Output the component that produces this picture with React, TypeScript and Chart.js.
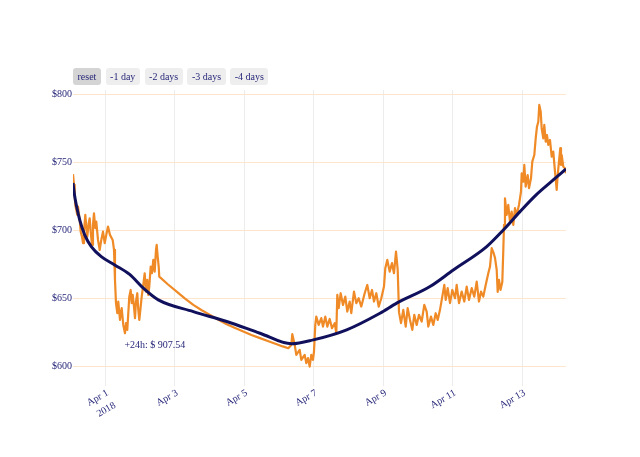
import React, { useEffect, useRef } from 'react';
import { Chart, registerables } from 'chart.js';

Chart.register(...registerables);

// x = days since Apr 1 2018 00:00, y = price in USD
const priceMar31ToApr2: [number, number][] = [
  [-0.935, 741.4], [-0.906, 733.5], [-0.886, 726.2], [-0.869, 718.8], [-0.812, 711.5], [-0.791, 717.6],
  [-0.742, 707.8], [-0.714, 699.2], [-0.676, 695.5], [-0.647, 690.7], [-0.619, 699.2], [-0.581, 711.5],
  [-0.553, 702.9], [-0.524, 695.5], [-0.483, 705.4], [-0.455, 709.0], [-0.426, 699.2], [-0.388, 689.4],
  [-0.36, 704.1], [-0.331, 712.7], [-0.294, 701.7], [-0.265, 706.5], [-0.216, 693.1], [-0.167, 685.7],
  [-0.121, 693.1], [-0.072, 699.2], [-0.023, 690.7], [0.023, 696.8], [0.072, 702.9], [0.129, 696.8],
  [0.207, 693.1], [0.245, 685.7], [0.273, 663.7], [0.302, 646.6], [0.34, 639.2], [0.368, 647.8],
  [0.417, 634.3], [0.466, 642.9], [0.512, 630.6], [0.561, 624.5], [0.59, 631.9], [0.627, 627.0],
  [0.656, 639.2], [0.685, 651.4], [0.725, 656.3], [0.754, 646.6], [0.783, 652.7], [0.82, 644.1],
  [0.849, 635.6], [0.878, 647.8], [0.915, 653.9], [0.944, 641.7], [0.973, 634.3], [1.013, 644.1],
  [1.042, 651.4], [1.088, 660.0], [1.128, 668.6], [1.165, 655.1], [1.203, 663.7], [1.232, 652.7],
  [1.26, 658.8], [1.301, 673.5], [1.338, 668.6], [1.376, 678.4], [1.416, 669.8], [1.453, 685.7],
  [1.473, 689.4], [1.502, 680.8], [1.531, 673.5], [1.548, 666.1],
];

const priceApr2ToApr6: [number, number][] = [
  [1.8, 660.3], [2.049, 655.1], [2.29, 650.0], [2.527, 645.3], [2.77, 641.4], [3.007, 638.0],
  [3.25, 634.4], [3.488, 631.1], [3.73, 628.3], [3.966, 625.7], [4.2, 623.2], [4.446, 620.9],
  [4.69, 618.6], [4.927, 616.4], [5.1, 614.8], [5.26, 613.5],
];

const priceApr6ToApr9: [number, number][] = [
  [5.347, 615.9], [5.376, 623.8], [5.445, 615.9], [5.491, 608.6], [5.588, 612.3], [5.635, 604.9],
  [5.732, 608.6], [5.778, 602.5], [5.827, 606.2], [5.876, 600.0], [5.922, 608.6], [5.971, 604.9],
  [6.0, 611.0], [6.037, 630.6], [6.066, 636.7], [6.135, 630.6], [6.21, 635.6], [6.259, 629.4],
  [6.325, 636.7], [6.383, 629.4], [6.452, 635.0], [6.518, 628.2], [6.596, 631.9], [6.642, 624.5],
  [6.671, 652.7], [6.711, 642.9], [6.768, 653.9], [6.835, 645.3], [6.901, 651.4], [6.958, 640.4],
  [7.027, 647.8], [7.073, 639.2], [7.151, 655.1], [7.217, 646.6], [7.286, 650.2], [7.361, 644.1],
  [7.459, 653.9], [7.534, 660.0], [7.603, 650.2], [7.669, 656.3], [7.727, 647.8], [7.793, 653.9],
  [7.862, 644.1], [7.937, 650.2], [8.014, 658.8], [8.052, 672.3], [8.109, 678.4], [8.178, 669.8],
  [8.245, 676.0], [8.302, 668.6], [8.36, 684.5], [8.409, 671.0], [8.446, 640.0],
];

const priceApr9ToApr12: [number, number][] = [
  [8.504, 631.9], [8.57, 641.7], [8.639, 629.4], [8.696, 642.9], [8.763, 634.3], [8.829, 627.0],
  [8.886, 638.0], [8.955, 630.6], [9.022, 638.0], [9.099, 633.1], [9.174, 645.3], [9.243, 640.4],
  [9.289, 629.4], [9.367, 636.7], [9.433, 630.6], [9.502, 639.2], [9.56, 634.3], [9.626, 641.7],
  [9.692, 651.4], [9.75, 660.0], [9.79, 649.0], [9.847, 657.6], [9.914, 646.6], [9.98, 656.3],
  [10.058, 650.2], [10.106, 660.0], [10.173, 646.6], [10.25, 655.1], [10.325, 647.8], [10.394, 658.8],
  [10.46, 649.0], [10.538, 657.6], [10.613, 651.4], [10.682, 662.4], [10.748, 647.8], [10.806, 655.1],
  [10.872, 651.4], [10.941, 660.0], [11.016, 668.6], [11.065, 673.5], [11.114, 687.0], [11.171, 683.3],
  [11.209, 679.9], [11.258, 671.0], [11.286, 654.9], [11.324, 663.7], [11.367, 656.3], [11.419, 662.2],
  [11.448, 685.7], [11.468, 704.1], [11.496, 723.7],
];

const priceApr12ToApr14: [number, number][] = [
  [11.545, 711.5], [11.591, 718.8], [11.64, 706.5], [11.689, 713.9], [11.735, 704.1], [11.784, 716.4],
  [11.833, 711.5], [11.899, 718.8], [11.957, 728.6], [11.977, 742.1], [12.023, 735.9], [12.052, 748.2],
  [12.092, 732.3], [12.15, 740.8], [12.187, 731.1], [12.245, 738.4], [12.282, 750.6], [12.34, 755.5],
  [12.38, 767.8], [12.417, 776.3], [12.455, 780.0], [12.483, 792.3], [12.524, 787.4], [12.552, 775.2],
  [12.598, 767.8], [12.627, 777.6], [12.668, 765.3], [12.705, 770.2], [12.742, 762.9], [12.791, 766.6],
  [12.84, 754.3], [12.886, 758.0], [12.935, 743.3], [12.984, 729.8], [13.013, 740.8], [13.05, 750.6],
  [13.088, 760.5], [13.108, 748.2], [13.128, 755.5], [13.174, 746.9], [13.223, 745.8], [13.252, 742.1],
];

const fitCurve: [number, number][] = [
  [-0.935, 735.0], [-0.892, 726.2], [-0.84, 718.8], [-0.742, 707.8], [-0.599, 696.8], [-0.409, 688.2],
  [-0.121, 680.8], [0.265, 674.7], [0.696, 667.7], [1.088, 657.6], [1.519, 649.0], [2.527, 640.4],
  [3.488, 633.1], [4.446, 624.5], [5.353, 616.7], [5.98, 619.6], [6.941, 627.0], [7.899, 639.2],
  [8.38, 646.6], [9.338, 658.8], [10.009, 671.0], [10.97, 688.2], [11.448, 700.4], [11.928, 713.9],
  [12.408, 726.6], [12.886, 737.2], [13.252, 745.3],
];

const xTickDays = [0, 2, 4, 6, 8, 10, 12];
const xTickLabels = [['Apr 1', '2018'], ['Apr 3'], ['Apr 5'], ['Apr 7'], ['Apr 9'], ['Apr 11'], ['Apr 13']];
const yTickValues = [600, 650, 700, 750, 800];
const rangeButtons = ['reset', '-1 day', '-2 days', '-3 days', '-4 days'];
const annotationText = '+24h: $ 907.54';
const annotationAt: [number, number] = [1.42, 615.2];

const X_MIN = -0.935;
const X_MAX = 13.252;
const Y_MIN = 585.7;
const Y_MAX = 803.3;

const TEXT = '#27277a';
const NAVY = '#10105c';
const ORANGE = '#ef8a26';
const FONT = '"Liberation Serif", "Times New Roman", serif';

const toPts = (arr: [number, number][]) => arr.map(([x, y]) => ({ x, y }));

export default function App() {
  const canvasRef = useRef<HTMLCanvasElement | null>(null);

  useEffect(() => {
    if (!canvasRef.current) return;
    const orange = [
      ...priceMar31ToApr2,
      ...priceApr2ToApr6,
      ...priceApr6ToApr9,
      ...priceApr9ToApr12,
      ...priceApr12ToApr14,
    ];
    const labelPlugin = {
      id: 'customLabels',
      afterDraw(chart: any) {
        const { ctx } = chart;
        const xs = chart.scales.x;
        const ys = chart.scales.y;
        ctx.save();
        ctx.fillStyle = TEXT;
        ctx.font = `10px ${FONT}`;
        xTickDays.forEach((d, i) => {
          const px = xs.getPixelForValue(d);
          ctx.save();
          ctx.translate(px, 388.5);
          ctx.rotate(-Math.PI / 6);
          ctx.textAlign = 'right';
          ctx.textBaseline = 'alphabetic';
          xTickLabels[i].forEach((line, j) => ctx.fillText(line, 0, 7 + j * 14.5));
          ctx.restore();
        });
        ctx.textAlign = 'center';
        ctx.textBaseline = 'middle';
        ctx.fillText(annotationText, xs.getPixelForValue(annotationAt[0]), ys.getPixelForValue(annotationAt[1]));
        ctx.restore();
      },
    };

    const chart = new Chart(canvasRef.current, {
      type: 'line',
      data: {
        datasets: [
          {
            label: 'fit',
            data: toPts(fitCurve),
            borderColor: NAVY,
            borderWidth: 3,
            pointRadius: 0,
            cubicInterpolationMode: 'monotone',
            borderJoinStyle: 'round',
            fill: false,
          },
          {
            label: 'price',
            data: toPts(orange),
            borderColor: ORANGE,
            borderWidth: 2.2,
            pointRadius: 0,
            tension: 0,
            borderJoinStyle: 'round',
            fill: false,
          },
        ],
      },
      options: {
        responsive: false,
        devicePixelRatio: 1,
        animation: false,
        layout: { padding: { left: 0, right: 74, top: 90, bottom: 0 } },
        plugins: { legend: { display: false }, tooltip: { enabled: false } },
        scales: {
          x: {
            type: 'linear',
            min: X_MIN,
            max: X_MAX,
            afterBuildTicks: (s: any) => {
              s.ticks = xTickDays.map((v) => ({ value: v }));
            },
            afterFit: (s: any) => {
              s.height = 71;
            },
            ticks: { display: false },
            grid: { color: '#ececec', lineWidth: 1, drawTicks: false },
            border: { display: false },
          },
          y: {
            type: 'linear',
            min: Y_MIN,
            max: Y_MAX,
            afterBuildTicks: (s: any) => {
              s.ticks = yTickValues.map((v) => ({ value: v }));
            },
            afterFit: (s: any) => {
              s.width = 73;
            },
            ticks: {
              color: TEXT,
              font: { family: FONT, size: 10 },
              padding: 1,
              callback: (v: any) => '$' + v,
            },
            grid: { color: '#fde6cc', lineWidth: 1, drawTicks: false },
            border: { display: false },
          },
        },
      },
      plugins: [labelPlugin],
    } as any);
    return () => chart.destroy();
  }, []);

  return (
    <div style={{ position: 'absolute', left: 0, top: 0, width: 640, height: 457, background: '#fff' }}>
      <canvas ref={canvasRef} width={640} height={457} style={{ display: 'block', width: 640, height: 457 }} />
      <div style={{ position: 'absolute', left: 73, top: 68, display: 'flex', gap: 4.7 }}>
        {rangeButtons.map((b, i) => (
          <div
            key={b}
            style={{
              height: 17,
              lineHeight: '17px',
              padding: '0 4.5px',
              fontSize: 10,
              fontFamily: FONT,
              color: TEXT,
              background: i === 0 ? '#d4d4d4' : '#eeeeee',
              borderRadius: 3,
              whiteSpace: 'nowrap',
            }}
          >
            {b}
          </div>
        ))}
      </div>
    </div>
  );
}
